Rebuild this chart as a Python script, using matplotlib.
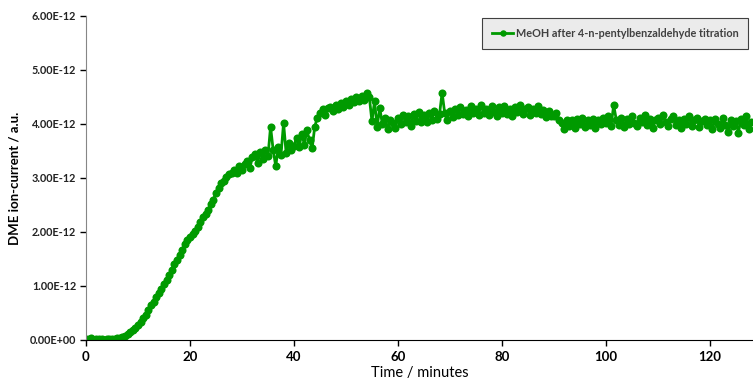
#!/usr/bin/env python3

import matplotlib
import numpy as np

matplotlib.use("Agg")
import matplotlib.pyplot as plt
from matplotlib.ticker import FuncFormatter


# DME ion-current (units of 1e-12 a.u.), sampled every 0.5 min
series_label = "MeOH after 4-n-pentylbenzaldehyde titration"
time_step = 0.5
current_e12 = [
    0.02, 0.01, 0.03, 0.00, 0.02, 0.01, 0.02, 0.00, 0.01, 0.02,
    0.01, 0.02, 0.03, 0.04, 0.06, 0.08, 0.11, 0.14, 0.19, 0.23,
    0.28, 0.34, 0.41, 0.47, 0.56, 0.65, 0.70, 0.79, 0.87, 0.95,
    1.03, 1.12, 1.20, 1.30, 1.40, 1.49, 1.58, 1.66, 1.77, 1.86,
    1.90, 1.97, 2.02, 2.10, 2.18, 2.27, 2.34, 2.40, 2.52, 2.60,
    2.72, 2.82, 2.90, 2.95, 3.02, 3.08, 3.10, 3.15, 3.09, 3.22,
    3.14, 3.26, 3.32, 3.18, 3.38, 3.44, 3.28, 3.48, 3.36, 3.52,
    3.40, 3.95, 3.52, 3.22, 3.58, 3.42, 4.02, 3.46, 3.65, 3.52,
    3.60, 3.74, 3.58, 3.82, 3.62, 3.88, 3.70, 3.55, 3.95, 4.12,
    4.20, 4.27, 4.16, 4.30, 4.32, 4.24, 4.36, 4.28, 4.38, 4.32,
    4.42, 4.36, 4.47, 4.40, 4.50, 4.42, 4.52, 4.45, 4.57, 4.50,
    4.05, 4.42, 3.95, 4.30, 4.00, 4.12, 3.90, 4.08, 4.02, 3.93,
    4.12, 4.00, 4.17, 4.03, 4.14, 3.96, 4.18, 4.06, 4.22, 4.04,
    4.16, 4.03, 4.20, 4.08, 4.24, 4.10, 4.18, 4.58, 4.20, 4.08,
    4.25, 4.13, 4.28, 4.16, 4.31, 4.18, 4.26, 4.14, 4.33, 4.20,
    4.28, 4.16, 4.35, 4.20, 4.28, 4.17, 4.33, 4.22, 4.15, 4.31,
    4.20, 4.33, 4.18, 4.28, 4.15, 4.31, 4.22, 4.35, 4.18, 4.27,
    4.31, 4.16, 4.28, 4.20, 4.33, 4.18, 4.26, 4.13, 4.24, 4.15,
    4.15, 4.20, 4.08, 4.02, 3.90, 4.07, 3.96, 4.08, 3.93, 4.10,
    4.00, 4.12, 3.94, 4.07, 3.98, 4.10, 3.92, 4.08, 4.00, 4.12,
    4.02, 4.14, 3.96, 4.35, 4.08, 3.98, 4.12, 3.94, 4.10, 4.00,
    4.14, 4.02, 3.96, 4.12, 4.04, 4.16, 3.98, 4.10, 3.93, 4.08,
    4.12, 4.00, 4.16, 4.03, 3.96, 4.10, 4.14, 3.98, 4.08, 3.92,
    4.10, 4.00, 4.14, 3.96, 4.08, 4.12, 3.94, 4.06, 4.10, 3.98,
    4.07, 3.90, 4.10, 4.00, 3.93, 4.12, 3.98, 3.86, 4.08, 3.96,
    4.06, 3.84, 4.10, 3.98, 4.14, 3.90, 4.04,
]
x_ticks = [0, 20, 40, 60, 80, 100, 120]
y_ticks_e12 = [0, 1, 2, 3, 4, 5, 6]

green = "#009a00"
font = ["Lato", "DejaVu Sans"]

time = np.arange(len(current_e12)) * time_step
current = np.array(current_e12) * 1e-12

fig = plt.figure(figsize=(7.53, 3.85), dpi=100)
ax = fig.add_axes([86 / 753, 1 - 340 / 385, 1 - 86 / 753, (340 - 16) / 385])

ax.plot(time, current, color=green, linewidth=2.0, marker="o", markersize=5.8,
        markeredgewidth=0, label=series_label)

ax.set_xlim(0, 128.3)
ax.set_ylim(0, 6e-12)
ax.set_xticks(x_ticks)
ax.set_yticks([v * 1e-12 for v in y_ticks_e12])
ax.yaxis.set_major_formatter(FuncFormatter(lambda v, _: f"{v:.2E}"))

for side in ("top", "right"):
    ax.spines[side].set_visible(False)
ax.spines["left"].set_color("#868686")
ax.spines["bottom"].set_color("black")
ax.tick_params(axis="both", direction="out", length=4, width=1, color="black")
ax.tick_params(axis="y", labelcolor="#222222", labelsize=7.8, pad=3)
ax.tick_params(axis="x", labelcolor="black", labelsize=9.5, pad=4)
for lab in ax.get_yticklabels() + ax.get_xticklabels():
    lab.set_family(font)
    lab.set_fontweight("bold")

ax.set_ylabel("DME ion-current / a.u.", family=font, fontweight="bold",
              fontsize=9.5, labelpad=7)
ax.set_xlabel("Time / minutes", family=font, fontsize=10.5, labelpad=2)

leg = ax.legend(loc="upper right", bbox_to_anchor=(748 / 753, 1 - 18 / 385),
                bbox_transform=fig.transFigure, fancybox=False, frameon=True,
                prop={"family": font, "weight": "bold", "size": 7.8},
                handlelength=2.0, handletextpad=0.2, borderpad=0.9,
                borderaxespad=0, markerscale=0.8)
leg.get_frame().set_facecolor("#ebebeb")
leg.get_frame().set_edgecolor("#404040")
leg.get_frame().set_linewidth(0.8)
leg.get_frame().set_alpha(1)
for txt in leg.get_texts():
    txt.set_color("#404040")

fig.savefig("out.png", dpi=100)
